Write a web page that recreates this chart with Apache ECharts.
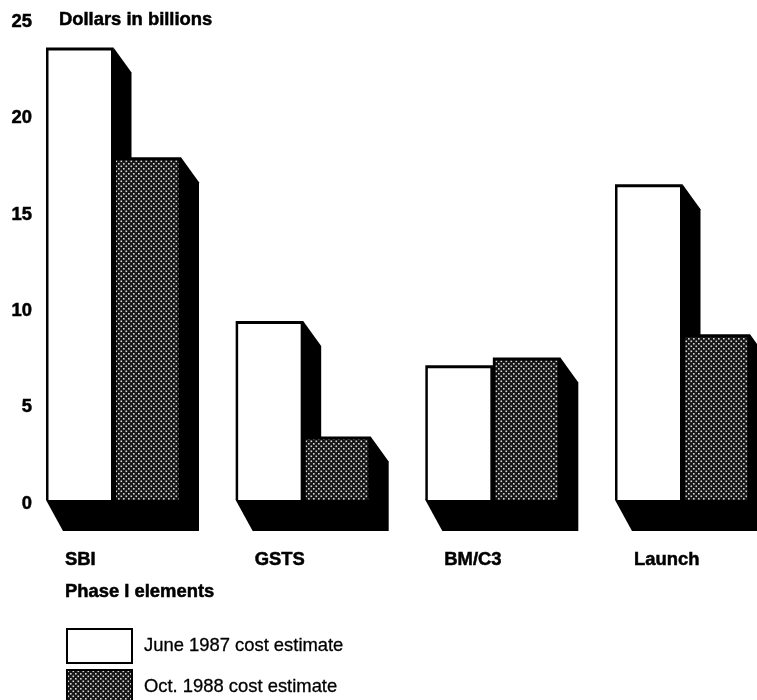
<!DOCTYPE html>
<html><head><meta charset="utf-8">
<style>html,body{margin:0;padding:0;background:#fff;overflow:hidden}#c{width:757px;height:700px}</style>
<script src="https://cdn.jsdelivr.net/npm/echarts@6/dist/echarts.min.js"></script>
</head><body><div id="c"></div>
<script>
var categories = ['SBI','GSTS','BM/C3','Launch'];
var june1987 = [23.5, 9.3, 7.0, 16.4];
var oct1988 = [17.8, 3.3, 7.4, 8.6];

function makeDots(){
  var c=document.createElement('canvas');c.width=5;c.height=5;
  var g=c.getContext('2d');g.fillStyle='#161616';g.fillRect(0,0,5,5);
  g.fillStyle='#d8d8d8';g.fillRect(0.5,0.5,1.6,1.6);g.fillRect(3,3,1.6,1.6);
  return c;
}
var dots={image:makeDots(),repeat:'repeat'};

function bars(slot,fill){
  return function(params,api){
    var p=api.coord([api.value(0),api.value(1)]);
    var b=api.coord([api.value(0),0]);
    var x0=p[0]-19+slot*67.5, x1=x0+67.5, top=p[1], base=b[1];
    var sx=18, sy=25, fy=31, fx=17;
    return {type:'group',children:[
      {type:'polygon',shape:{points:[[x0,base],[x0+fx,base+fy],[x1+sx,base+fy],[x1+sx,top+sy],[x1,top]]},style:{fill:'#000'}},
      {type:'rect',shape:{x:x0,y:top,width:x1-x0,height:base-top},style:{fill:'#000'}},
      {type:'rect',shape:{x:x0+2.5,y:top+3,width:x1-x0-5,height:base-top-3},style:{fill:fill}}
    ]};
  };
}
var font='"Liberation Sans",Arial,sans-serif';
var t={fontFamily:font,fontWeight:'bold',fontSize:18.4,color:'#000',textBorderColor:'#000',textBorderWidth:0.5};
var chart=echarts.init(document.getElementById('c'),null,{renderer:'canvas'});
chart.setOption({
  animation:false,
  backgroundColor:'#fff',
  title:[
    {text:'Dollars in billions',left:59,top:11,padding:0,textStyle:t},
    {text:'Phase I elements',left:65,top:583,padding:0,textStyle:t}
  ],
  grid:{left:65,width:569,top:18.5,height:481.5,containLabel:false},
  legend:{orient:'vertical',left:66,top:628,height:200,itemWidth:65,itemHeight:34,itemGap:5,icon:'rect',padding:0,
    textStyle:{fontFamily:font,fontSize:18.4,color:'#000',textBorderColor:'#000',textBorderWidth:0.3,padding:[4,0,0,7]},
    data:['June 1987 cost estimate','Oct. 1988 cost estimate']},
  xAxis:{type:'category',boundaryGap:false,data:categories,
    axisLine:{show:false},axisTick:{show:false},splitLine:{show:false},
    axisLabel:Object.assign({},t,{margin:51,align:'left',interval:0,showMinLabel:true,showMaxLabel:true})},
  yAxis:{type:'value',min:0,max:25,interval:5,
    axisLine:{show:false},axisTick:{show:false},splitLine:{show:false},
    axisLabel:Object.assign({},t,{margin:33,align:'right',verticalAlign:'top',lineHeight:7})},
  series:[
    {name:'June 1987 cost estimate',type:'custom',z:2,clip:false,
     itemStyle:{color:'#fff',borderColor:'#000',borderWidth:2.5},
     renderItem:bars(0,'#fff'),encode:{x:0,y:1},
     data:june1987.map(function(v,i){return [i,v];})},
    {name:'Oct. 1988 cost estimate',type:'custom',z:3,clip:false,
     itemStyle:{color:dots,borderColor:'#000',borderWidth:2.5},
     renderItem:bars(1,dots),encode:{x:0,y:1},
     data:oct1988.map(function(v,i){return [i,v];})}
  ]
});
</script></body></html>
